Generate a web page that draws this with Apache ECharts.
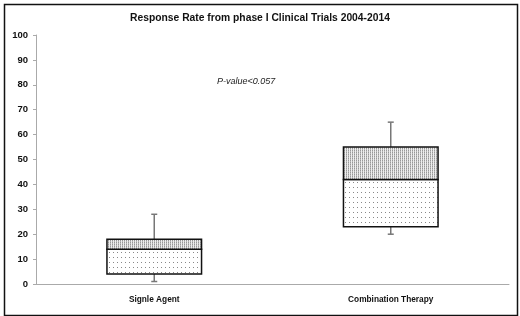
<!DOCTYPE html>
<html>
<head>
<meta charset="utf-8">
<script src="https://cdn.jsdelivr.net/npm/echarts@6/dist/echarts.min.js"></script>
<style>
  html, body { margin: 0; padding: 0; background: #fff; }
  #chart { width: 520px; height: 316px; }
</style>
</head>
<body>
<div id="chart"></div>
<script>
// 数据
const categories = ['Signle Agent', 'Combination Therapy']
const minValues = [1, 20]
const q1Values = [4, 23]
const medianValues = [14, 42]
const q3Values = [18, 55]
const maxValues = [28, 65]
const yTicks = [0, 10, 20, 30, 40, 50, 60, 70, 80, 90, 100]

// 点状填充
function makePattern(w, h, dots, bg) {
  const c = document.createElement('canvas')
  c.width = w
  c.height = h
  const ctx = c.getContext('2d')
  ctx.fillStyle = bg
  ctx.fillRect(0, 0, w, h)
  dots.forEach(d => {
    ctx.fillStyle = d[2]
    ctx.fillRect(d[0], d[1], 1, 1)
  })
  return c
}
const sparse = makePattern(4, 5, [[1, 2, '#888']], '#fff')
const dense = makePattern(2, 2, [[0, 0, '#999'], [0, 1, '#bbb']], '#eee')

const boxData = categories.map((c, i) =>
  [i, minValues[i], q1Values[i], medianValues[i], q3Values[i], maxValues[i]])

function renderBox(params, api) {
  const i = api.value(0)
  const half = api.size([1, 0])[0] * 0.2
  const pMin = api.coord([i, api.value(1)])
  const pQ1 = api.coord([i, api.value(2)])
  const pMed = api.coord([i, api.value(3)])
  const pQ3 = api.coord([i, api.value(4)])
  const pMax = api.coord([i, api.value(5)])
  const x = pMed[0]
  const cap = 3
  const whisker = { stroke: '#777', lineWidth: 1.5 }
  return {
    type: 'group',
    children: [
      { type: 'line', shape: { x1: x, y1: pQ3[1], x2: x, y2: pMax[1] }, style: whisker },
      { type: 'line', shape: { x1: x - cap, y1: pMax[1], x2: x + cap, y2: pMax[1] }, style: whisker },
      { type: 'line', shape: { x1: x, y1: pQ1[1], x2: x, y2: pMin[1] }, style: whisker },
      { type: 'line', shape: { x1: x - cap, y1: pMin[1], x2: x + cap, y2: pMin[1] }, style: whisker },
      {
        type: 'rect',
        shape: { x: x - half, y: pMed[1], width: half * 2, height: pQ1[1] - pMed[1] },
        style: { fill: { image: sparse, repeat: 'repeat' }, stroke: '#111', lineWidth: 1.5 }
      },
      {
        type: 'rect',
        shape: { x: x - half, y: pQ3[1], width: half * 2, height: pMed[1] - pQ3[1] },
        style: { fill: { image: dense, repeat: 'repeat' }, stroke: '#111', lineWidth: 1.5 }
      }
    ]
  }
}

const chart = echarts.init(document.getElementById('chart'))
chart.setOption({
  backgroundColor: '#fff',
  animation: false,
  title: {
    text: 'Response Rate from phase I Clinical Trials 2004-2014',
    left: 'center',
    top: 8,
    textStyle: { fontFamily: 'Liberation Sans', fontSize: 10.3, fontWeight: 'bold', color: '#111' }
  },
  grid: { left: 36, right: 11, top: 35, bottom: 32 },
  xAxis: {
    type: 'category',
    data: categories,
    axisLine: { lineStyle: { color: '#aaa', width: 1 } },
    axisTick: { show: false },
    axisLabel: {
      margin: 12,
      fontFamily: 'Liberation Sans', fontSize: 8.3, fontWeight: 'bold', color: '#111'
    }
  },
  yAxis: {
    type: 'value',
    min: yTicks[0],
    max: yTicks[yTicks.length - 1],
    interval: 10,
    axisLine: { show: true, lineStyle: { color: '#aaa', width: 1 } },
    axisTick: { show: true, length: 3, lineStyle: { color: '#aaa' } },
    splitLine: { show: false },
    axisLabel: {
      margin: 8,
      fontFamily: 'Liberation Sans', fontSize: 9.5, fontWeight: 'bold', color: '#111'
    }
  },
  graphic: [
    {
      type: 'rect',
      left: 2, top: 2,
      shape: { width: 513, height: 311 },
      style: { fill: 'none', stroke: '#111', lineWidth: 1.5 }
    },
    {
      type: 'text',
      left: 217, top: 77,
      style: {
        text: 'P-value<0.057',
        font: 'italic 9px "Liberation Sans"',
        fill: '#222'
      }
    }
  ],
  series: [
    {
      type: 'custom',
      renderItem: renderBox,
      encode: { x: 0, y: [1, 2, 3, 4, 5] },
      data: boxData
    }
  ]
})
</script>
</body>
</html>
